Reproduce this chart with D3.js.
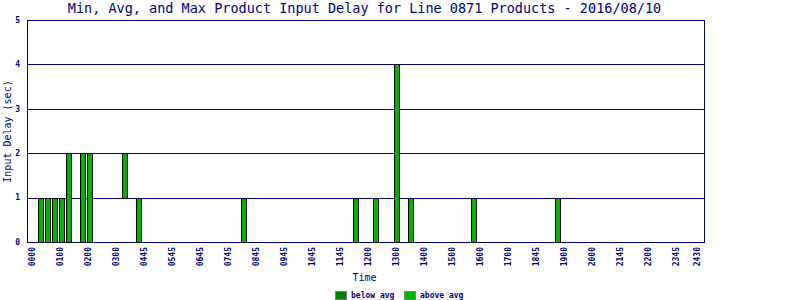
<!DOCTYPE html>
<html>
<head>
<meta charset="utf-8">
<script src="https://cdn.jsdelivr.net/npm/d3@7"></script>
<style>
  html, body { margin: 0; padding: 0; background: #fff; }
  svg { display: block; }
  text { font-family: "DejaVu Sans Mono", "Liberation Mono", monospace; fill: #000080; }
</style>
</head>
<body>
<div id="chart"></div>
<script>
// ---- data ----
const titleText = "Min, Avg, and Max Product Input Delay for Line 0871 Products - 2016/08/10";
const slotCount = 96; // 15-minute slots
const tickLabels = ["0000","0100","0200","0300","0445","0545","0645","0745","0845","0945","1045","1145","1200","1300","1400","1500","1600","1700","1845","1900","2000","2145","2200","2345","2430"];
const tickSlots  = [0,4,8,12,16,20,24,28,32,36,40,44,48,52,56,60,64,68,72,76,80,84,88,92,95];
const barSlots = [1,2,3,4,5,7,8,13,15,30,46,49,52,54,63,75];
const minVals  = [0,0,0,0,0,0,0,1,0,0,0,0,0,0,0,0];
const avgVals  = [0,0,0,0,0,0,0,1,0,0,0,0,0,0,0,0];
const maxVals  = [1,1,1,1,2,2,2,2,1,1,1,1,4,1,1,1];
const yTicks = [0,1,2,3,4,5];
const seriesNames = ["below avg","above avg"];
const seriesColors = ["#008000","#00b400"];

(function () {
// ---- layout ----
const W = 800, H = 300;
const pL = 27, pR = 705, pT = 20, pB = 242;
const svg = d3.select("#chart").append("svg").attr("width", W).attr("height", H);

const x = d3.scalePoint().domain(d3.range(slotCount)).range([pL, pR]).padding(0.93);
const y = d3.scaleLinear().domain([0, 5]).range([pB, pT]);

// gridlines
svg.append("g").selectAll("line").data(yTicks).join("line")
  .attr("x1", pL).attr("x2", pR)
  .attr("y1", d => Math.round(y(d)) + 0.5).attr("y2", d => Math.round(y(d)) + 0.5)
  .attr("stroke", "#000080").attr("stroke-width", 1);

// plot border
svg.append("rect").attr("x", pL + 0.5).attr("y", pT + 0.5)
  .attr("width", pR - pL - 1).attr("height", pB - pT)
  .attr("fill", "none").attr("stroke", "#000080").attr("stroke-width", 1);

// bars
const rows = barSlots.map((s, i) => ({ s, min: minVals[i], avg: avgVals[i], max: maxVals[i] }));
const bw = 5;
const barG = svg.append("g");
// below avg: min -> avg
barG.selectAll("rect.below").data(rows.filter(d => d.avg > d.min)).join("rect")
  .attr("class", "below")
  .attr("x", d => Math.round(x(d.s) - 3) + 0.5)
  .attr("y", d => Math.round(y(d.avg)) + 0.5)
  .attr("width", bw)
  .attr("height", d => Math.round(y(d.min)) - Math.round(y(d.avg)))
  .attr("fill", seriesColors[0]).attr("stroke", "#000").attr("stroke-width", 1);
// above avg: avg -> max
barG.selectAll("rect.above").data(rows.filter(d => d.max > d.avg)).join("rect")
  .attr("class", "above")
  .attr("x", d => Math.round(x(d.s) - 3) + 0.5)
  .attr("y", d => Math.round(y(d.max)) + 0.5)
  .attr("width", bw)
  .attr("height", d => Math.round(y(d.avg)) - Math.round(y(d.max)))
  .attr("fill", seriesColors[1]).attr("stroke", "#000").attr("stroke-width", 1);

// y tick labels
svg.append("g").selectAll("text").data(yTicks).join("text")
  .attr("x", 20).attr("y", d => y(d)).attr("dy", "0.35em")
  .attr("text-anchor", "end")
  .attr("font-size", "8px").attr("font-weight", "bold")
  .text(d => d);

// x tick labels (rotated)
svg.append("g").selectAll("text").data(tickSlots).join("text")
  .attr("transform", (d) => `translate(${x(d) - 1},247) rotate(-90)`)
  .attr("dy", "0.35em")
  .attr("text-anchor", "end")
  .attr("font-size", "8px").attr("font-weight", "bold")
  .text((d, i) => tickLabels[i]);

// title
svg.append("text").attr("x", 364.5).attr("y", 13.3)
  .attr("text-anchor", "middle").attr("font-size", "13.5px")
  .text(titleText);

// y axis title
svg.append("text").attr("transform", "translate(11,131.5) rotate(-90)")
  .attr("text-anchor", "middle").attr("font-size", "10px")
  .text("Input Delay (sec)");

// x axis title
svg.append("text").attr("x", 364.5).attr("y", 281)
  .attr("text-anchor", "middle").attr("font-size", "10px")
  .text("Time");

// legend
const legendX = [335, 404];
const lg = svg.append("g").selectAll("g").data(seriesNames).join("g")
  .attr("transform", (d, i) => `translate(${legendX[i]},291)`);
lg.append("rect").attr("x", 0.5).attr("y", 0.5).attr("width", 11).attr("height", 8)
  .attr("fill", (d, i) => seriesColors[i]).attr("stroke", "#808080").attr("stroke-width", 1);
lg.append("text").attr("x", 16).attr("y", 4.5).attr("dy", "0.35em")
  .attr("font-size", "8px").attr("font-weight", "bold").text(d => d);
})();
</script>
</body>
</html>
